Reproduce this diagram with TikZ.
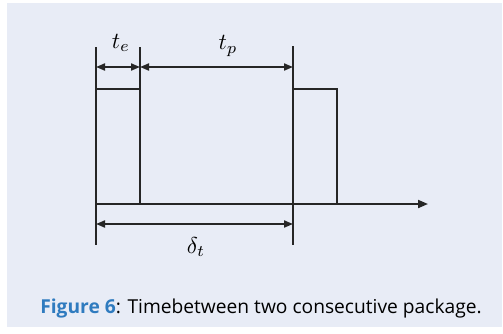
\documentclass[tikz,border=0pt]{standalone}
\usepackage{fontspec}
\setsansfont{Open Sans}
\usetikzlibrary{arrows.meta}
\definecolor{panel}{HTML}{E8ECF6}
\definecolor{capblue}{HTML}{2F7BBF}
\begin{document}
\begin{tikzpicture}[x=1pt,y=-1pt,
  sig/.style={line width=1.9pt,black!85},
  dim/.style={line width=1.9pt,black!85,{Triangle[length=9pt,width=7pt]}-{Triangle[length=9pt,width=7pt]}},
  axis/.style={line width=1.9pt,black!85,-{Triangle[length=10pt,width=8pt]}},
  lab/.style={scale=2.3}]
\useasboundingbox (0,0) rectangle (503,333);
\fill[panel] (7,3) rectangle (502,327);
% coordinates
\coordinate (a0) at (96,47);
\coordinate (a1) at (96,245);
\coordinate (p1t) at (96,89);
\coordinate (b0) at (140,47);
\coordinate (b1) at (140,204);
\coordinate (c0) at (293,46);
\coordinate (c1) at (293,245);
\coordinate (d0) at (337,89);
\coordinate (d1) at (337,204);
\coordinate (o) at (96,204);
\coordinate (ax) at (428,204);
% signal
\draw[sig] (a0) -- (a1);
\draw[sig] (p1t) -- (140,89);
\draw[sig] (b0) -- (b1);
\draw[sig] (c0) -- (c1);
\draw[sig] (293,89) -- (d0) -- (d1);
\draw[axis] (o) -- (ax);
% dimensions
\draw[dim] (96,67) -- (140,67);
\draw[dim] (140,67) -- (293,67);
\draw[dim] (96,224) -- (293,224);
\node[lab] (te) at (121,43) {$t_e$};
\node[lab] (tp) at (228,46) {$t_p$};
\node[lab] (dt) at (196,247) {$\delta_t$};
\node[font=\sffamily\fontsize{19.2}{22}\selectfont,anchor=base] (cap) at (261,313)
  {\textcolor{capblue}{\bfseries Figure 6}: Timebetween two consecutive package.};
\end{tikzpicture}
\end{document}
